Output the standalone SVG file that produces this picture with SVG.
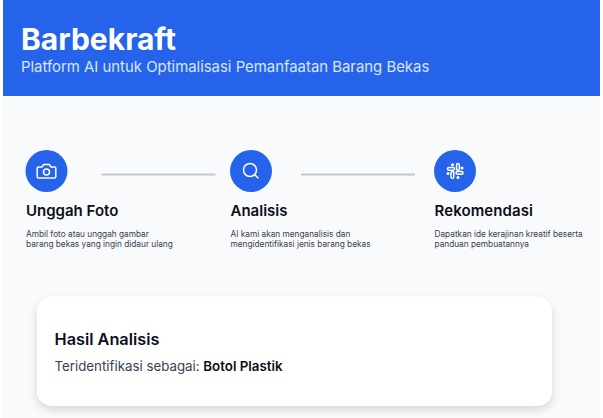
<svg xmlns="http://www.w3.org/2000/svg" width="603" height="418" viewBox="0 0 603 418">
<style>
text{font-family:Inter,"Liberation Sans",sans-serif}
.t{font-size:15px;font-weight:600;fill:#0b0f19}
.d{font-size:8.280px;fill:#374151}
.c{fill:#2563eb}
.i{fill:none;stroke:#fff;stroke-width:1.500;stroke-linecap:round;stroke-linejoin:round}
.l{stroke:#c4c7cd;stroke-width:2}
</style>
<defs><filter id="s" x="-10%" y="-20%" width="120%" height="150%"><feDropShadow dx="0" dy="4" stdDeviation="4" flood-color="#000" flood-opacity="0.14"/></filter></defs>
<rect width="603" height="418" fill="#fff"/>
<rect x="3" y="0" width="597" height="418" fill="#f9fafb"/>
<g id="header">
<rect x="3" y="0" width="597" height="96" fill="#2563eb"/>
<text x="21" y="49.500" font-size="30" font-weight="700" fill="#fff">Barbekraft</text>
<text x="21" y="71.500" font-size="14.900" fill="#dbe6fd">Platform AI untuk Optimalisasi Pemanfaatan Barang Bekas</text>
</g>
<g id="connectors">
<line class="l" x1="101.500" y1="174.500" x2="215.500" y2="174.500"/>
<line class="l" x1="301" y1="174.500" x2="415" y2="174.500"/>
</g>
<g id="step-unggah">
<circle class="c" cx="46.500" cy="171" r="21"/>
<path class="i" d="M38.500 167h3.500l1.700-2.500h5.600l1.700 2.500h3.500a1.300 1.300 0 0 1 1.300 1.300v8.400a1.300 1.300 0 0 1-1.300 1.300h-16a1.300 1.300 0 0 1-1.300-1.300v-8.400a1.300 1.300 0 0 1 1.300-1.300z"/>
<circle class="i" cx="46.500" cy="172" r="3"/>
<text class="t" x="26" y="216">Unggah Foto</text>
<text class="d" x="26" y="236.500">Ambil foto atau unggah gambar</text>
<text class="d" x="26" y="247">barang bekas yang ingin didaur ulang</text>
</g>
<g id="step-analisis">
<circle class="c" cx="251" cy="171" r="21"/>
<circle class="i" cx="250" cy="170" r="6.500"/>
<line class="i" x1="254.800" y1="174.800" x2="258" y2="178"/>
<text class="t" x="230.500" y="216">Analisis</text>
<text class="d" x="230.500" y="236.500">AI kami akan menganalisis dan</text>
<text class="d" x="230.500" y="247">mengidentifikasi jenis barang bekas</text>
</g>
<g id="step-rekomendasi">
<circle class="c" cx="455" cy="171" r="21"/>
<g class="i">
<rect x="447.500" y="167.500" width="7" height="2.800" rx="1.400"/>
<rect x="456.500" y="163.500" width="2.800" height="7" rx="1.400"/>
<rect x="456" y="171.500" width="7" height="2.800" rx="1.400"/>
<rect x="451" y="171.500" width="2.800" height="7" rx="1.400"/>
<circle cx="452.500" cy="164.800" r="0.800"/>
<circle cx="462" cy="168" r="0.800"/>
<circle cx="458" cy="177.500" r="0.800"/>
<circle cx="448" cy="173.500" r="0.800"/>
</g>
<text class="t" x="434.500" y="216" textLength="98.500">Rekomendasi</text>
<text class="d" x="434.500" y="236.500">Dapatkan ide kerajinan kreatif beserta</text>
<text class="d" x="434.500" y="247">panduan pembuatannya</text>
</g>
<g id="result">
<rect x="37" y="296.500" width="515" height="109.500" rx="15" fill="#fff" filter="url(#s)"/>
<text x="54.500" y="344.500" font-size="16.300" font-weight="600" fill="#0b0f19">Hasil Analisis</text>
<text x="54.500" y="370.500" font-size="13.300" fill="#374151">Teridentifikasi sebagai: <tspan font-weight="600" fill="#0b0f19">Botol Plastik</tspan></text>
</g>
</svg>
